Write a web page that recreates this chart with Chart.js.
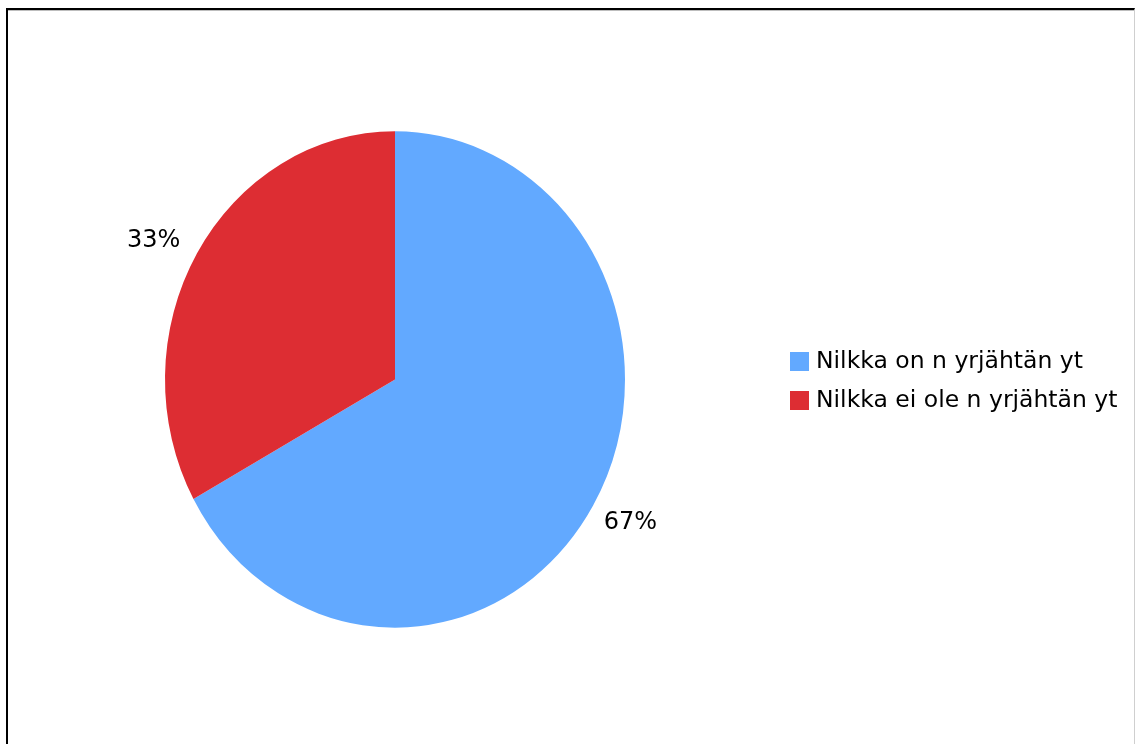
<!DOCTYPE html>
<html>
<head>
<meta charset="utf-8">
<script src="https://cdn.jsdelivr.net/npm/chart.js@4.4.1/dist/chart.umd.min.js"></script>
<style>
  html, body { margin: 0; padding: 0; background: #fff; }
  body { width: 1136px; height: 744px; position: relative; overflow: hidden; }
  #frame {
    position: absolute; left: 6px; top: 8px; width: 1126px; height: 760px;
    border-top: 2px solid #000; border-left: 2px solid #000; border-right: 1px solid #cfcfcf;
    box-shadow: inset 0 1px 0 #bdbdbd;
  }
  #wrap { position: absolute; left: 0; top: 0; width: 1136px; height: 744px; }
</style>
</head>
<body>
<div id="frame"></div>
<div id="wrap"><canvas id="pie"></canvas></div>
<script>
const labels = ['Nilkka on n yrjähtän yt', 'Nilkka ei ole n yrjähtän yt'];
const values = [67, 33];
const pctLabels = ['67%', '33%'];
const colors = ['#62a9ff', '#dd2d33'];

const LEGEND_FONT = '23.5px "DejaVu Sans", Verdana, sans-serif';
const LABEL_FONT = '24px "DejaVu Sans", Verdana, sans-serif';
const STRETCH_Y = 1.079; // pie is a bit taller than wide in the original

// squash/stretch the pie vertically around its centre
const stretch = {
  id: 'stretch',
  beforeDatasetsDraw(chart) {
    const arc = chart.getDatasetMeta(0).data[0];
    const ctx = chart.ctx;
    ctx.save();
    ctx.translate(arc.x, arc.y);
    ctx.scale(1, STRETCH_Y);
    ctx.translate(-arc.x, -arc.y);
  },
  afterDatasetsDraw(chart) {
    chart.ctx.restore();
  }
};

// percentage labels outside each slice + legend on the right
const extras = {
  id: 'extras',
  afterDraw(chart) {
    const ctx = chart.ctx;
    const meta = chart.getDatasetMeta(0);
    ctx.save();
    ctx.font = LABEL_FONT;
    ctx.fillStyle = '#000';
    ctx.textAlign = 'center';
    ctx.textBaseline = 'middle';
    meta.data.forEach((arc, i) => {
      const mid = (arc.startAngle + arc.endAngle) / 2;
      const r = arc.outerRadius + 47;
      ctx.fillText(pctLabels[i], arc.x + Math.cos(mid) * r - 3, arc.y + Math.sin(mid) * r + 2);
    });

    const lx = 790, ly = 352, step = 39;
    ctx.font = LEGEND_FONT;
    ctx.textAlign = 'left';
    labels.forEach((t, i) => {
      const y = ly + i * step;
      ctx.fillStyle = colors[i];
      ctx.fillRect(lx, y, 19, 19);
      ctx.fillStyle = '#000';
      ctx.fillText(t, lx + 26, y + 10);
    });
    ctx.restore();
  }
};

new Chart(document.getElementById('pie'), {
  type: 'pie',
  data: {
    labels: labels,
    datasets: [{
      data: values,
      backgroundColor: colors,
      borderWidth: 0
    }]
  },
  options: {
    responsive: true,
    maintainAspectRatio: false,
    animation: false,
    layout: { padding: { left: 165, right: 511, top: 30, bottom: 15 } },
    plugins: {
      legend: { display: false },
      tooltip: { enabled: false }
    }
  },
  plugins: [stretch, extras]
});
</script>
</body>
</html>
